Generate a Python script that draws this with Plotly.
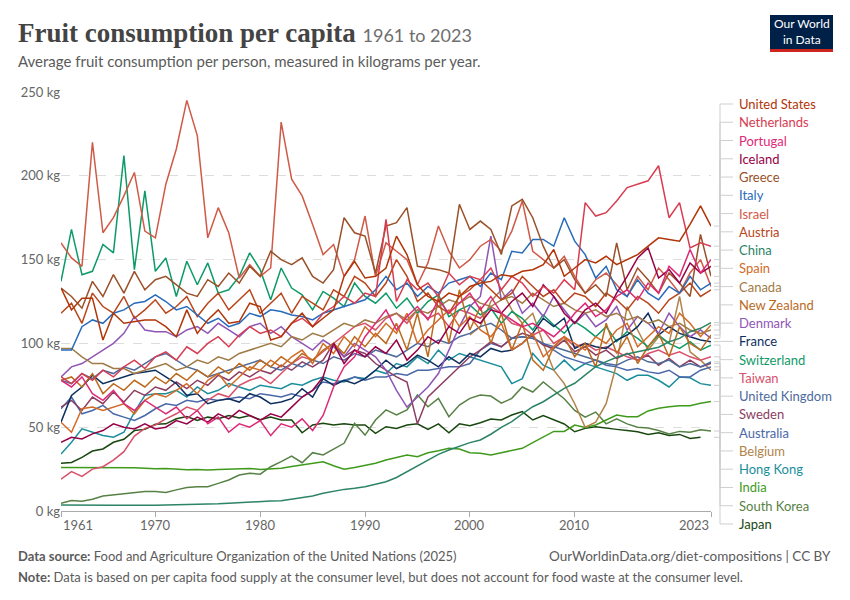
import plotly.graph_objects as go

# fruit supply per person, kg per year
years = list(range(1961, 2024))

united_states = [
    133, 120, 127, 127, 102, 118, 112, 113, 114, 114,
    110, 104, 120, 106, 114, 120, 112, 113, 124, 122,
    102, 104, 112, 118, 110, 115, 120, 140, 149, 139,
    140, 145, 164, 153, 135, 128, 125, 130, 128, 134,
    136, 137, 141, 140, 143, 144, 147, 156, 140, 145,
    150, 148, 152, 147, 150, 153, 158, 163, 162, 161,
    171, 182, 170]
netherlands = [
    80, 76, 82, 78, 84, 80, 86, 90, 85, 92,
    95, 90, 98, 94, 100, 104, 98, 105, 110, 106,
    108, 104, 112, 115, 110, 118, 122, 128, 124, 130,
    128, 174, 125, 138, 132, 136, 128, 142, 135, 140,
    138, 145, 132, 140, 136, 128, 134, 130, 138, 132,
    184, 176, 178, 185, 193, 195, 197, 206, 175, 184,
    157, 160, 158]
portugal = [
    78, 74, 80, 70, 66, 72, 64, 60, 66, 62,
    58, 62, 55, 60, 52, 56, 47, 52, 50, 54,
    45, 52, 50, 55, 48, 57, 74, 86, 92, 104,
    112, 120, 108, 116, 122, 114, 126, 118, 124, 130,
    120, 128, 118, 114, 110, 112, 108, 104, 110, 118,
    124, 116, 120, 128, 132, 126, 136, 130, 146, 140,
    156, 142, 150]
iceland = [
    41, 44, 43, 46, 48, 52, 50, 49, 52, 49,
    50, 54, 52, 56, 53, 58, 55, 60, 57, 54,
    58, 56, 62, 68, 72, 80, 100, 88, 96, 92,
    98, 94, 102, 90, 96, 104, 100, 110, 106, 115,
    112, 120, 118, 125, 130, 122, 135, 128, 118, 112,
    120, 124, 118, 130, 140, 151, 157, 139, 144, 136,
    148, 142, 146]
greece = [
    133, 128, 121, 137, 128, 141, 130, 143, 132, 138,
    140, 135, 130, 128, 138, 134, 142, 136, 146, 140,
    155, 150, 147, 151, 140, 136, 144, 175, 166, 164,
    142, 170, 172, 181, 146, 145, 144, 142, 183, 168,
    173, 168, 153, 182, 186, 175, 158, 145, 150, 138,
    130, 135, 128, 160, 132, 145, 138, 130, 142, 136,
    128, 165, 140]
italy = [
    96, 96, 110, 114, 112, 118, 120, 124, 125, 129,
    125, 120, 122, 117, 112, 115, 110, 112, 118, 116,
    120, 119, 117, 116, 114, 118, 120, 122, 124, 126,
    132, 140, 132, 136, 128, 134, 130, 136, 138, 140,
    134, 142, 138, 155, 154, 162, 162, 158, 175, 161,
    153, 139, 146, 132, 128, 138, 130, 126, 134, 130,
    140, 132, 136]
israel = [
    160, 151, 146, 220, 166, 175, 188, 202, 167, 163,
    195, 216, 245, 224, 163, 181, 166, 139, 147, 140,
    145, 232, 198, 188, 171, 153, 159, 140, 150, 176,
    140, 160, 155, 150, 135, 148, 170, 155, 145, 150,
    158, 162, 155, 167, 185, 155, 150, 145, 152, 140,
    130, 138, 142, 135, 128, 140, 132, 145, 138, 130,
    142, 150, 134]
austria = [
    118, 124, 112, 130, 122, 118, 128, 115, 120, 126,
    118, 122, 128, 116, 124, 130, 120, 126, 132, 118,
    124, 130, 118, 128, 124, 120, 132, 128, 140, 136,
    128, 136, 150, 140, 125, 130, 122, 118, 128, 132,
    138, 132, 126, 130, 140, 134, 128, 132, 124, 130,
    128, 122, 130, 126, 120, 128, 124, 118, 126, 130,
    136, 128, 132]
china = [
    3.6, 3.5, 3.4, 3.6, 3.5, 3.4, 3.5, 3.3, 3.4, 3.4,
    3.5, 3.6, 3.8, 4.0, 4.2, 4.3, 4.6, 5.0, 5.4, 5.6,
    5.9, 6.1, 7.0, 8.2, 9.0, 10.6, 11.8, 12.9, 13.6, 14.5,
    16, 17.5, 20, 23.4, 26.8, 30.4, 33.8, 36.4, 38.8, 40.8,
    42.4, 45.8, 49.9, 53.3, 58, 62.2, 65.2, 69.2, 73.2, 76.2,
    81.1, 86.1, 89.1, 91.7, 93.7, 95, 96, 97.7, 101, 103,
    107, 109, 112.4]
spain = [
    53, 47, 61, 62, 60, 62, 64, 58, 66, 70,
    68, 72, 76, 70, 78, 82, 74, 80, 86, 84,
    90, 86, 92, 96, 88, 100, 94, 104, 98, 110,
    104, 112, 106, 118, 100, 108, 114, 120, 110, 116,
    108, 104, 112, 96, 100, 106, 92, 98, 104, 100,
    96, 104, 100, 108, 112, 98, 104, 110, 106, 118,
    112, 104, 111]
canada = [
    97, 97, 92, 88, 88, 85, 85, 82, 84, 86,
    88, 84, 86, 90, 88, 92, 90, 94, 96, 98,
    100, 98, 104, 102, 106, 104, 108, 112, 110, 114,
    112, 116, 118, 114, 120, 118, 122, 126, 124, 128,
    124, 122, 126, 128, 124, 130, 126, 122, 124, 120,
    118, 120, 116, 118, 114, 116, 112, 114, 110, 112,
    108, 106, 108]
new_zealand = [
    78, 80, 74, 82, 70, 76, 72, 78, 74, 80,
    76, 82, 78, 84, 80, 86, 82, 88, 84, 90,
    86, 92, 88, 94, 90, 96, 100, 94, 104, 98,
    106, 100, 112, 96, 118, 92, 128, 100, 132, 108,
    122, 100, 118, 96, 112, 90, 84, 98, 104, 92,
    100, 86, 112, 94, 104, 88, 98, 106, 92, 110,
    100, 96, 105]
denmark = [
    80, 86, 88, 92, 96, 100, 106, 116, 108, 107,
    107, 104, 108, 110, 106, 112, 108, 104, 110, 112,
    106, 110, 104, 100, 96, 102, 98, 92, 100, 96,
    92, 84, 72, 62, 68, 74, 82, 96, 110, 122,
    128, 164, 126, 132, 118, 124, 116, 128, 120, 112,
    118, 110, 114, 122, 108, 116, 112, 106, 118, 110,
    104, 108, 103]
france = [
    53, 69, 74, 81, 76, 78, 80, 82, 83, 84,
    80, 76, 69, 70, 64, 66, 67, 65, 70, 68,
    64, 65, 67, 73, 68, 79, 75, 78, 76, 79,
    84, 90, 85, 88, 93, 90, 86, 92, 88, 94,
    92, 97, 95, 96, 100, 106, 115, 110, 115, 97,
    100, 98, 97, 102, 105, 110, 118, 105, 110, 106,
    104, 102, 101]
switzerland = [
    137, 168, 141, 143, 159, 154, 212, 144, 191, 143,
    151, 128, 149, 135, 148, 130, 132, 140, 154, 144,
    126, 145, 133, 129, 120, 131, 127, 122, 136, 128,
    124, 130, 121, 127, 118, 125, 129, 116, 120, 123,
    117, 121, 112, 119, 115, 108, 117, 111, 106, 113,
    109, 104, 110, 101, 107, 103, 98, 105, 100, 97,
    101, 96, 99]
taiwan = [
    19, 23.5, 20.6, 25, 26.4, 30.4, 35.4, 44.7, 49.3, 51.3,
    55, 58, 62, 60, 66, 70, 68, 75, 78, 80,
    76, 82, 88, 92, 90, 95, 100, 105, 110, 112,
    108, 115, 118, 112, 120, 115, 118, 110, 120, 118,
    115, 122, 118, 112, 110, 105, 108, 100, 104, 98,
    100, 96, 98, 95, 92, 90, 94, 96, 93, 95,
    92, 90, 92]
united_kingdom = [
    78, 76, 82, 79, 84, 82, 86, 84, 88, 92,
    94, 90, 86, 84, 80, 82, 84, 86, 88, 90,
    86, 84, 88, 86, 90, 88, 92, 90, 94, 92,
    96, 94, 92, 96, 100, 98, 102, 100, 104, 106,
    110, 112, 108, 103, 104, 103, 100, 98, 96, 94,
    92, 90, 88, 87, 90, 92, 89, 88, 90, 86,
    88, 86, 89]
sweden = [
    62, 66, 60, 68, 64, 71, 65, 72, 69, 74,
    72, 77, 73, 78, 75, 81, 78, 83, 80, 84,
    82, 87, 84, 89, 86, 90, 100, 92, 96, 94,
    88, 84, 80, 77, 52, 68, 74, 80, 86, 92,
    96, 101, 98, 103, 106, 104, 99, 97, 102, 95,
    98, 93, 96, 91, 94, 90, 93, 87, 91, 86,
    90, 86, 88]
australia = [
    61, 68, 58, 60, 63, 58, 56, 54, 57, 61,
    64, 63, 66, 65, 67, 66, 67, 68, 67, 70,
    69, 68, 70, 68, 72, 77, 76, 78, 80, 78,
    80, 80, 82, 81, 84, 84, 85, 86, 86, 88,
    96, 100, 98, 103, 104, 103, 100, 96, 92, 90,
    88, 90, 87, 86, 84, 85, 83, 82, 84, 80,
    80, 84, 86]
belgium_years = list(range(2000, 2024))
belgium = [
    105, 110, 125, 132, 120, 112, 118, 100, 84, 76,
    64, 50, 53, 64, 88, 122, 108, 96, 104, 100,
    128, 95, 90, 84]
hong_kong = [
    34, 41, 49, 47, 45, 44, 47, 59, 69, 70,
    70, 72, 68, 74, 70, 72, 76, 74, 72, 75,
    74, 73, 76, 75, 78, 80, 78, 77, 80, 79,
    84, 82, 88, 86, 92, 88, 96, 90, 94, 92,
    90, 88, 86, 76, 79, 94, 87, 84, 90, 84,
    88, 86, 84, 82, 78, 81, 81, 78, 74, 80,
    79.5, 76, 75]
india = [
    26, 26, 25.8, 25.8, 26, 26, 25.6, 25.8, 25.5, 25.2,
    25.4, 25, 24.6, 24.8, 24.5, 24.8, 25, 25.2, 25.4, 24.8,
    25.2, 25.5, 26.5, 27.5, 28.5, 29.4, 27, 24.9, 26, 27.4,
    28.5, 30.4, 32, 33.4, 32.4, 34.8, 36, 37.4, 37, 34.8,
    34.4, 33.4, 34.8, 36, 37.4, 40.8, 44.3, 47.5, 47.5, 51.3,
    49.9, 51.3, 54.3, 57.3, 56.3, 56.3, 59.7, 61.3, 62.2, 62.8,
    62.8, 64.3, 65.3]
south_korea = [
    4.6, 6.2, 5.8, 7, 9, 9.6, 10.2, 11, 11.6, 11.6,
    11, 12.6, 14, 14.5, 14.5, 16.5, 18.5, 21.5, 22.5, 22,
    26.4, 29.5, 32.8, 28.8, 34.8, 33.4, 36.8, 40.4, 52.3, 45.3,
    54.3, 60.3, 57.3, 60.3, 69.2, 62.2, 67.2, 56.3, 63.2, 67.2,
    69.2, 68.6, 64.3, 67.2, 74, 71, 77, 72, 67, 60,
    56, 59, 52, 55, 52, 50, 49.5, 48, 46, 47.5,
    47, 48.5, 47.7]
japan_years = list(range(1961, 2023))
japan = [
    28.5, 29, 32, 35.8, 37, 41, 42.8, 48, 48.7, 51.7,
    52, 55, 56.3, 54, 56, 55, 57, 55.5, 57, 54.5,
    56, 54.3, 54.3, 46.7, 51.3, 52.3, 51.3, 52, 51.3, 51.3,
    46.3, 50.3, 49.3, 51.3, 52, 48.7, 52, 46.7, 52, 50.9,
    52.7, 54.9, 54.3, 57.3, 59.3, 54.3, 56.9, 54.3, 51.9, 47.3,
    49.3, 50.3, 49.3, 48.7, 48, 47.3, 45.7, 46.7, 45, 45.7,
    43.3, 44]

# legend order (top to bottom), colours
series = [
    ("United States", "#B13507", years, united_states),
    ("Netherlands", "#D73C50", years, netherlands),
    ("Portugal", "#DD2A76", years, portugal),
    ("Iceland", "#970046", years, iceland),
    ("Greece", "#9A5129", years, greece),
    ("Italy", "#286BBB", years, italy),
    ("Israel", "#CF5A47", years, israel),
    ("Austria", "#B9461B", years, austria),
    ("China", "#2C8465", years, china),
    ("Spain", "#D26B26", years, spain),
    ("Canada", "#9F7A45", years, canada),
    ("New Zealand", "#BC6A1E", years, new_zealand),
    ("Denmark", "#8E55B5", years, denmark),
    ("France", "#0E2F5F", years, france),
    ("Switzerland", "#0E9A67", years, switzerland),
    ("Taiwan", "#D9506A", years, taiwan),
    ("United Kingdom", "#4C6A9C", years, united_kingdom),
    ("Sweden", "#8D3D62", years, sweden),
    ("Australia", "#4A68A8", years, australia),
    ("Belgium", "#B1834A", belgium_years, belgium),
    ("Hong Kong", "#1B8E9B", years, hong_kong),
    ("India", "#3F9A1C", years, india),
    ("South Korea", "#578145", years, south_korea),
    ("Japan", "#18470F", japan_years, japan),
]

W, H = 850, 600
L, R, T, B = 61, 139, 92, 89
YMAX = 250


def px(x):
    return (x - L) / (W - L - R)


def py(y):
    return (H - B - y) / (H - T - B)


fig = go.Figure()
for name, color, xs, ys in reversed(series):
    fig.add_trace(go.Scatter(x=xs, y=ys, mode="lines", name=name,
                             line=dict(color=color, width=1.5),
                             showlegend=False))

annotations = []
shapes = []

# line labels with connectors
for i, (name, color, xs, ys) in enumerate(series):
    ly = 104 + i * 18.26
    ye = ys[-1] / YMAX
    shapes.append(dict(
        type="path", xref="paper", yref="paper",
        path=f"M {px(714)},{ye} L {px(720)},{ye} L {px(720)},{py(ly)} L {px(733)},{py(ly)}",
        line=dict(color="#cfcfcf", width=1)))
    annotations.append(dict(
        x=px(737), y=py(ly), xref="paper", yref="paper", text=name,
        showarrow=False, xanchor="left", yanchor="middle",
        font=dict(family="Lato", size=13, color=color)))

# x tick labels
for yr in [1961, 1970, 1980, 1990, 2000, 2010, 2023]:
    anchor = "left" if yr == 1961 else ("right" if yr == 2023 else "center")
    annotations.append(dict(
        x=yr, y=py(525), xref="x", yref="paper", text=str(yr),
        showarrow=False, xanchor=anchor, yanchor="middle",
        font=dict(family="Lato", size=13, color="#666666")))

# title, subtitle
annotations.append(dict(
    x=px(16), y=py(33), xref="paper", yref="paper", showarrow=False,
    xanchor="left", yanchor="middle",
    text="<b>Fruit consumption per capita</b> "
         "<span style='font-family:Lato;font-size:18px;color:#6e6e6e'>1961 to 2023</span>",
    font=dict(family="Liberation Serif", size=27, color="#444444")))
annotations.append(dict(
    x=px(16), y=py(61), xref="paper", yref="paper", showarrow=False,
    xanchor="left", yanchor="middle",
    text="Average fruit consumption per person, measured in kilograms per year.",
    font=dict(family="Lato", size=15, color="#5b5b5b")))

# footer
annotations.append(dict(
    x=px(16), y=py(556), xref="paper", yref="paper", showarrow=False,
    xanchor="left", yanchor="middle",
    text="<b>Data source:</b> Food and Agriculture Organization of the United Nations (2025)",
    font=dict(family="Lato", size=13, color="#5b5b5b")))
annotations.append(dict(
    x=px(833), y=py(556), xref="paper", yref="paper", showarrow=False,
    xanchor="right", yanchor="middle",
    text="OurWorldinData.org/diet-compositions | CC BY",
    font=dict(family="Lato", size=13.5, color="#5b5b5b")))
annotations.append(dict(
    x=px(16), y=py(577), xref="paper", yref="paper", showarrow=False,
    xanchor="left", yanchor="middle",
    text="<b>Note:</b> Data is based on per capita food supply at the consumer level, "
         "but does not account for food waste at the consumer level.",
    font=dict(family="Lato", size=13, color="#5b5b5b")))

# logo
shapes.append(dict(type="rect", xref="paper", yref="paper",
                   x0=px(770), x1=px(833), y0=py(52), y1=py(15),
                   fillcolor="#002147", line=dict(width=0)))
shapes.append(dict(type="rect", xref="paper", yref="paper",
                   x0=px(770), x1=px(833), y0=py(52), y1=py(49),
                   fillcolor="#CE261E", line=dict(width=0)))
annotations.append(dict(
    x=px(801.5), y=py(32), xref="paper", yref="paper", showarrow=False,
    xanchor="center", yanchor="middle", text="Our World<br>in Data",
    font=dict(family="Lato", size=12, color="white")))

fig.update_layout(
    width=W, height=H,
    margin=dict(l=L, r=R, t=T, b=B),
    paper_bgcolor="white", plot_bgcolor="white",
    annotations=annotations, shapes=shapes,
    xaxis=dict(range=[1961, 2023], tickvals=[1961, 1970, 1980, 1990, 2000, 2010, 2023],
               showticklabels=False, showgrid=False, zeroline=False,
               showline=True, linecolor="#aaaaaa", linewidth=1,
               ticks="outside", ticklen=5, tickcolor="#aaaaaa"),
    yaxis=dict(range=[0, YMAX], tickvals=[0, 50, 100, 150, 200, 250],
               ticktext=["0 kg", "50 kg", "100 kg", "150 kg", "200 kg", "250 kg"],
               showgrid=True, gridcolor="#dddddd", griddash="dash", zeroline=False,
               showline=False, ticks="",
               tickfont=dict(family="Lato", size=13, color="#666666")),
    hovermode=False,
)

# the page body has a default margin; drop it so the figure fills the window
fig.write_html("out.html", config={"displayModeBar": False},
               post_script="document.body.style.margin='0';")
